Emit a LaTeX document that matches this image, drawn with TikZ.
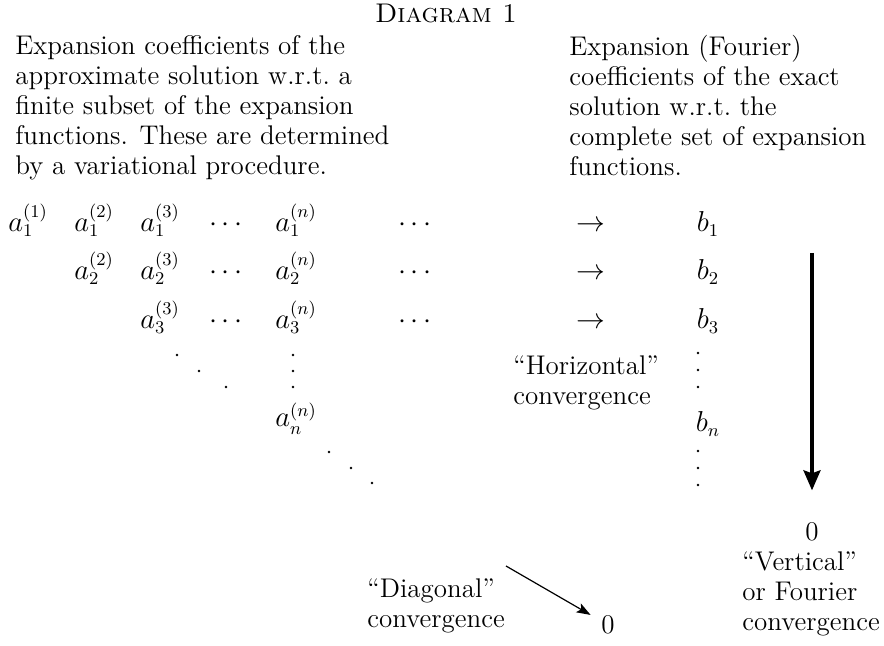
\documentclass[tikz,border=0pt]{standalone}
\usepackage{fontspec}
\usetikzlibrary{arrows.meta}
\tikzset{
  body/.style    = {font=\fontsize{13.5}{15}\selectfont, inner sep=0pt},
  para/.style    = {body, align=left, anchor=north west},
  coef/.style    = {body, anchor=base},
  conv/.style    = {-{Stealth[length=7pt,width=5pt,inset=1.5pt]}, line width=0.6pt, shorten >=6pt},
  fourier/.style = {-{Stealth[length=10pt,width=8.5pt,inset=1.5pt]}, line width=1.7pt, shorten >=16pt},
}

\begin{document}
\begin{tikzpicture}[x=0.5pt, y=-0.5pt]
  \useasboundingbox (0,0) rectangle (884,646);

  \node[inner sep=0pt, font=\fontsize{13.5}{15}\selectfont] (title) at (446,13) {\textsc{Diagram 1}};

  \node[para] (approx) at (15,35) {Expansion coefficients of the\\approximate solution w.r.t.\ a\\finite subset of the expansion\\functions. These are determined\\by a variational procedure.};
  \node[para] (exact) at (569,35) {Expansion (Fourier)\\coefficients of the exact\\solution w.r.t.\ the\\complete set of expansion\\functions.};

  % triangular array of approximate coefficients
  \foreach \i/\y in {1/232,2/280,3/329} {
    \foreach \k in {\i,...,3}
      \node[coef, anchor=base west] (a\i\k) at ({8+66*(\k-1)},\y) {$a_{\i}^{(\k)}$};
    \node[coef] (dl\i) at (226,\y) {$\cdots$};
    \node[coef, anchor=base west] (an\i) at (275,\y) {$a_{\i}^{(n)}$};
    \node[coef] (dr\i) at (415,\y) {$\cdots$};
    \node[coef] (to\i) at (591,\y) {$\rightarrow$};
    \node[coef] (b\i) at (708,\y) {$b_{\i}$};
  }
  \node[coef, anchor=base west] (ann) at (275,427) {$a_{n}^{(n)}$};
  \node[coef] (bn) at (708,432) {$b_{n}$};

  % dots of the array
  \foreach \p in {(177,355),(199,371),(226,387),(293,355),(293,371),(293,387),
                  (329,452),(351,468),(372,483),(698,353),(698,370),(698,387),
                  (698,451),(698,468),(698,485)}
    \fill \p circle[radius=0.65pt];

  \node[para] (horiz) at (513,355) {``Horizontal''\\convergence};
  \node[body] (vzero) at (812,532) {0};
  \node[para] (vert) at (742,551) {``Vertical''\\or Fourier\\convergence};
  \node[para] (diag) at (367,578) {``Diagonal''\\convergence};
  \node[body] (dzero) at (608,625) {0};

  \coordinate (vtop) at (812,253);
  \coordinate (dstart) at (506,566);
  \draw[fourier] (vtop) -- (vzero.north);
  \draw[conv] (dstart) -- (dzero);
\end{tikzpicture}
\end{document}
